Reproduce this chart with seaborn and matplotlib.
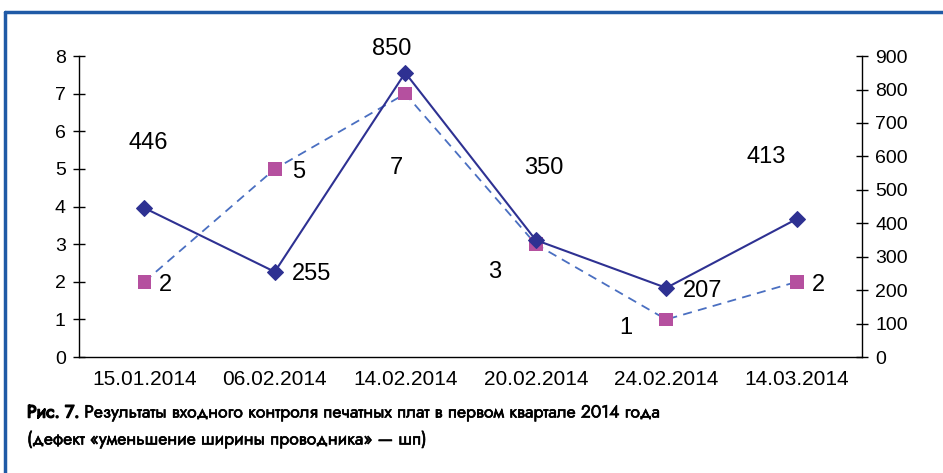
import numpy as np
import pandas as pd
import seaborn as sns
import matplotlib.pyplot as plt
import matplotlib.patheffects as pe
from matplotlib.lines import Line2D

# data
dates = ["15.01.2014", "06.02.2014", "14.02.2014", "20.02.2014", "24.02.2014", "14.03.2014"]
defects = [2, 5, 7, 3, 1, 2]            # left axis, pink squares
boards = [446, 255, 850, 350, 207, 413]  # right axis, blue diamonds

caption_bold = "Рис. 7."
caption_1 = " Результаты входного контроля печатных плат в первом квартале 2014 года"
caption_2 = "(дефект «уменьшение ширины проводника» — шп)"

df = pd.DataFrame({"pos": np.arange(len(dates)), "date": dates,
                   "defects": defects, "boards": boards})

sns.set_style("white")
plt.rcParams["font.family"] = ["Liberation Sans", "DejaVu Sans"]
plt.rcParams["text.color"] = "black"
plt.rcParams["xtick.color"] = "black"
plt.rcParams["ytick.color"] = "black"

fig = plt.figure(figsize=(9.43, 4.73), dpi=100)
ax = fig.add_axes([0.0838, 0.245, 0.8303, 0.6364])
ax2 = ax.twinx()

sns.lineplot(data=df, x="pos", y="defects", ax=ax, color="#4a6fc1",
             linestyle=(0, (5, 3.5)), linewidth=1.3, zorder=3)
sns.scatterplot(data=df, x="pos", y="defects", ax=ax, marker="s", s=95,
                color="#b5509f", edgecolor="none", zorder=4)
sns.lineplot(data=df, x="pos", y="boards", ax=ax2, color="#2e3192",
             linewidth=1.5, marker="D", markersize=8,
             markeredgecolor="#2e3192", zorder=3)

ax.set_xlim(-0.5, len(dates) - 0.5)
ax.set_ylim(0, 8)
ax2.set_ylim(0, 900)
ax.set_yticks(range(0, 9))
ax2.set_yticks(range(0, 901, 100))
ax.set_xticks(np.arange(len(dates)))
ax.set_xticklabels(dates, fontsize=15)
ax.set_xticks(np.arange(-0.5, len(dates)), minor=True)
ax.tick_params(axis="x", which="major", length=0, pad=9)
ax.tick_params(axis="x", which="minor", direction="inout", length=9, width=1)
ax.tick_params(axis="y", direction="inout", length=9, width=1, labelsize=14, pad=5)
ax2.tick_params(axis="y", direction="inout", length=9, width=1, labelsize=14, pad=5)
ax.set_xlabel("")
ax.set_ylabel("")
ax2.set_ylabel("")

for a in (ax, ax2):
    a.spines["top"].set_visible(False)
    for s in a.spines.values():
        s.set_color("black")
        s.set_linewidth(1)
ax.spines["right"].set_visible(False)
ax2.spines["left"].set_visible(False)
ax2.spines["bottom"].set_visible(False)

# data labels (offsets in pixels)
blue_off = [(4, 65), (17, -2), (-14, 24), (8, 72), (17, -3), (-31, 62)]
blue_ha = ["center", "left", "center", "center", "left", "center"]
pink_off = [(15, -3), (17, -3), (-9, -74), (-41, -28), (-40, -9), (15, -3)]
pink_ha = ["left", "left", "center", "center", "center", "left"]

for i in range(len(dates)):
    ax2.annotate(str(boards[i]), (i, boards[i]), xytext=blue_off[i],
                 textcoords="offset pixels", ha=blue_ha[i], va="center",
                 fontsize=17, zorder=5)
    ax.annotate(str(defects[i]), (i, defects[i]), xytext=pink_off[i],
                textcoords="offset pixels", ha=pink_ha[i], va="center",
                fontsize=17, zorder=5)

# frame lines on left and top
fig.add_artist(Line2D([5 / 943, 5 / 943], [0, 1 - 12 / 473], color="#1f5aa6", lw=2.5))
fig.add_artist(Line2D([5 / 943, 1], [1 - 12 / 473, 1 - 12 / 473], color="#1f5aa6", lw=2.5))

# caption: Jost has one weight here, so thicken the strokes a little
cap_font = ["Jost", "Noto Sans", "DejaVu Sans"]
bold_fx = [pe.withStroke(linewidth=1.1, foreground="black")]
med_fx = [pe.withStroke(linewidth=0.45, foreground="black")]
t = fig.text(27 / 943, 1 - 413 / 473, caption_bold, fontsize=12.6,
             family=cap_font, va="center", ha="left", path_effects=bold_fx)
fig.canvas.draw()
bb = t.get_window_extent()
fig.text(bb.x1 / fig.bbox.width, 1 - 413 / 473, caption_1, fontsize=12.6,
         family=cap_font, va="center", ha="left", path_effects=med_fx)
fig.text(27 / 943, 1 - 440 / 473, caption_2, fontsize=12.6,
         family=cap_font, va="center", ha="left", path_effects=med_fx)

fig.savefig("out.png", dpi=100)
